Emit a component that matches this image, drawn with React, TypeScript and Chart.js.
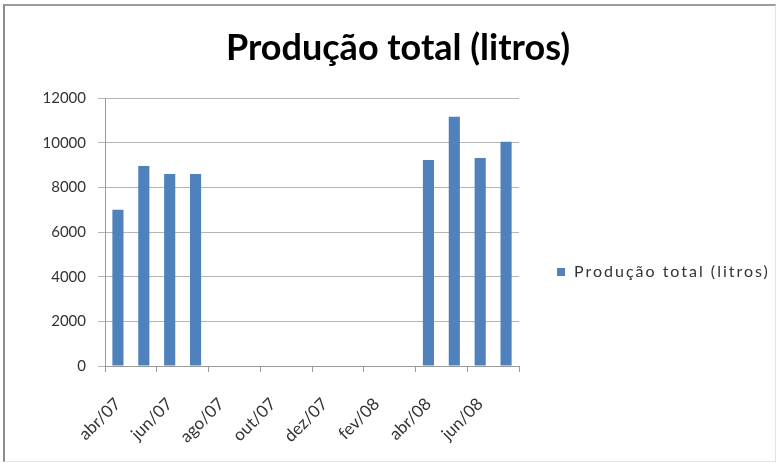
import React, { useEffect, useRef } from "react";
import { Chart, registerables } from "chart.js";

Chart.register(...registerables);

const monthLabels = [
  "abr/07", "mai/07", "jun/07", "jul/07", "ago/07", "set/07", "out/07", "nov/07",
  "dez/07", "jan/08", "fev/08", "mar/08", "abr/08", "mai/08", "jun/08", "jul/08",
];
const productionValues = [
  7000, 8960, 8600, 8600, null, null, null, null,
  null, null, null, null, 9230, 11170, 9320, 10050,
];
const seriesLabel = "Produção total (litros)";
const chartTitle = "Produção total (litros)";
const yMin = 0;
const yMax = 12000;
const yStep = 2000;

const FONT = "Lato, 'Open Sans', sans-serif";
const BAR_COLOR = "#4F81BD";

const sideLegend = {
  id: "sideLegend",
  afterDraw(chart: any) {
    const { ctx, chartArea } = chart;
    const ds = chart.data.datasets[0];
    const x = chartArea.right + 38;
    const y = chartArea.bottom - 94;
    ctx.save();
    ctx.fillStyle = ds.backgroundColor;
    ctx.fillRect(x, y - 4, 8, 8);
    ctx.fillStyle = "#333";
    ctx.font = `16px ${FONT}`;
    (ctx as any).letterSpacing = "2px";
    ctx.textBaseline = "middle";
    ctx.textAlign = "left";
    ctx.fillText(ds.label, x + 17, y);
    ctx.restore();
  },
};

export default function App() {
  const canvasRef = useRef<HTMLCanvasElement | null>(null);

  useEffect(() => {
    document.body.style.margin = "0";
    const canvas = canvasRef.current;
    if (!canvas) return;
    const chart = new Chart(canvas, {
      type: "bar",
      data: {
        labels: monthLabels,
        datasets: [
          {
            label: seriesLabel,
            data: productionValues as any,
            backgroundColor: BAR_COLOR,
            borderWidth: 0,
            categoryPercentage: 1,
            barPercentage: 0.43,
            yAxisID: "y",
          },
        ],
      },
      options: {
        animation: false,
        responsive: false,
        devicePixelRatio: 1,
        layout: { padding: { left: 18, right: 0, top: 0, bottom: 0 } },
        plugins: {
          legend: { display: false },
          tooltip: { enabled: false },
          title: {
            display: true,
            text: chartTitle,
            color: "#000",
            font: { family: FONT, size: 36, weight: "bold" },
            padding: { top: 27, bottom: 28 },
          },
        },
        scales: {
          x: {
            offset: true,
            grid: {
              offset: true,
              drawOnChartArea: false,
              drawTicks: true,
              tickLength: 6,
              color: (c: any) =>
                c.index === undefined || c.index % 2 === 0 ? "#9a9a9a" : "rgba(0,0,0,0)",
            },
            border: { display: true, color: "#9a9a9a" },
            ticks: {
              autoSkip: false,
              minRotation: 45,
              maxRotation: 45,
              padding: 22,
              color: "#333",
              font: { family: FONT, size: 17 },
              callback: (_v: any, i: number) => (i % 2 === 0 ? monthLabels[i] : ""),
            },
            afterFit: (s: any) => {
              s.height = 102;
            },
          },
          y: {
            position: "left",
            min: yMin,
            max: yMax,
            ticks: {
              stepSize: yStep,
              color: "#333",
              padding: 12,
              font: { family: FONT, size: 15 },
              callback: (v: any) => String(v),
            },
            grid: { color: "#b5b5b5", tickLength: 7, drawTicks: true },
            border: { display: true, color: "#9a9a9a" },
            afterFit: (s: any) => {
              s.width = 87;
            },
          },
          spacer: {
            type: "linear",
            position: "right",
            display: true,
            ticks: { display: false },
            grid: { display: false },
            border: { display: false },
            afterFit: (s: any) => {
              s.width = 259;
            },
          },
        },
      },
      plugins: [sideLegend],
    });
    return () => chart.destroy();
  }, []);

  return (
    <div style={{ position: "relative", width: 778, height: 468, background: "#fff" }}>
      <div
        style={{
          position: "absolute",
          left: 3,
          top: 4,
          width: 770,
          height: 455,
          borderLeft: "2px solid #8c8c8c",
          borderTop: "2px solid #9c9c9c",
          borderRight: "1px solid #e2e2e2",
          borderBottom: "1px solid #e6e6e6",
        }}
      />
      <canvas
        ref={canvasRef}
        width={778}
        height={468}
        style={{ position: "absolute", left: 0, top: 0, width: 778, height: 468 }}
      />
    </div>
  );
}
